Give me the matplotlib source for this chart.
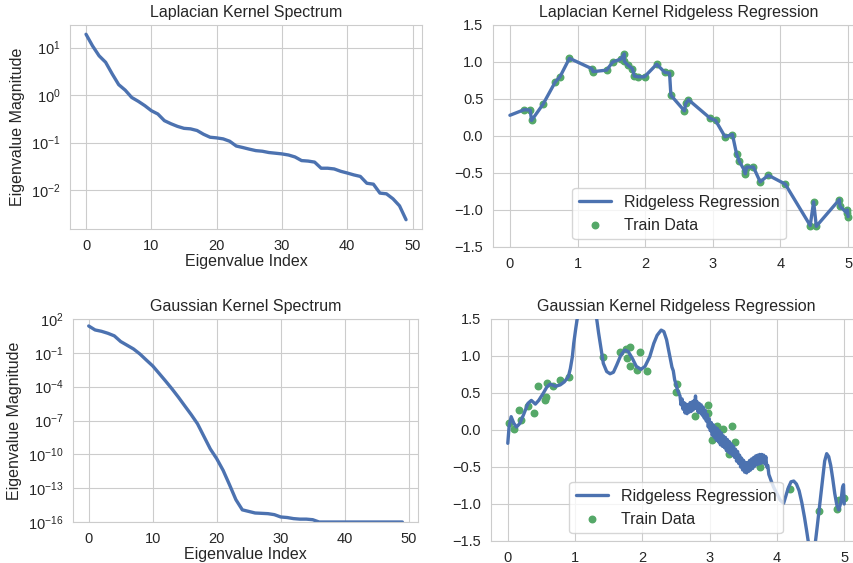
import numpy as np
import matplotlib
matplotlib.use("Agg")
import matplotlib.pyplot as plt
import seaborn as sns

sns.set_style("whitegrid")
plt.rcParams['font.family'] = ['Liberation Sans', 'DejaVu Sans']
plt.rcParams['mathtext.fontset'] = 'custom'
plt.rcParams['mathtext.rm'] = 'Liberation Sans'
plt.rcParams['mathtext.it'] = 'Liberation Sans:italic'
plt.rcParams['xtick.labelsize'] = 10.5
plt.rcParams['ytick.labelsize'] = 10.5
plt.rcParams['axes.labelsize'] = 11.5
plt.rcParams['axes.titlesize'] = 11.5
plt.rcParams['legend.fontsize'] = 11.5

blue = '#4C72B0'
green = '#55A868'

# eigenvalue spectra
lap_eig = [19, 10.8, 6.7, 4.9, 2.8, 1.66, 1.27, 0.89, 0.74, 0.60,
           0.47, 0.40, 0.29, 0.25, 0.22, 0.20, 0.195, 0.18, 0.15, 0.13,
           0.126, 0.12, 0.107, 0.085, 0.079, 0.073, 0.068, 0.066, 0.062, 0.060,
           0.058, 0.055, 0.050, 0.042, 0.041, 0.039, 0.029, 0.029, 0.028, 0.025,
           0.023, 0.021, 0.0195, 0.014, 0.0134, 0.0087, 0.0084, 0.0066, 0.0047, 0.0024]
gauss_eig = [24, 10.7, 8.1, 5.4, 3.2, 1.0, 0.47, 0.22, 0.079, 0.023,
             6.9e-3, 1.5e-3, 3.2e-4, 6.5e-5, 1.2e-5, 2.0e-6, 3.4e-7, 5.1e-8, 3.9e-9, 3.0e-10,
             4.1e-11, 3.8e-12, 2.0e-13, 9.5e-15, 1.2e-15, 8.7e-16, 6.3e-16, 5.9e-16, 5.5e-16, 4.5e-16,
             2.8e-16, 2.5e-16, 2.0e-16, 1.8e-16, 1.8e-16, 1.6e-16, 1e-16, 1e-16, 1e-16, 1e-16,
             1e-16, 1e-16, 1e-16, 1e-16, 1e-16, 1e-16, 1e-16, 1e-16, 1e-16, 1e-16]

# laplacian kernel: train data and fitted curve
lap_x = [0.21, 0.30, 0.32, 0.49, 0.67, 0.74, 0.88, 1.21, 1.23, 1.43,
         1.52, 1.64, 1.69, 1.69, 1.74, 1.81, 1.84, 1.90, 1.99, 2.17,
         2.29, 2.36, 2.38, 2.58, 2.60, 2.64, 2.96, 3.04, 3.18, 3.29,
         3.35, 3.39, 3.47, 3.48, 3.50, 3.60, 3.70, 3.82, 4.07, 4.44,
         4.49, 4.53, 4.87, 4.88, 4.98, 4.99, 5.00]
lap_y = [0.355, 0.35, 0.21, 0.43, 0.73, 0.80, 1.05, 0.91, 0.87, 0.89,
         1.00, 1.04, 1.11, 1.01, 0.96, 0.91, 0.81, 0.80, 0.80, 0.97,
         0.86, 0.85, 0.55, 0.34, 0.44, 0.49, 0.24, 0.21, -0.01, 0.02,
         -0.24, -0.34, -0.47, -0.51, -0.42, -0.42, -0.62, -0.53, -0.65, -1.21,
         -0.89, -1.22, -0.86, -0.95, -1.04, -1.00, -1.09]
lap_fit_x = [0.0] + lap_x
lap_fit_y = [0.28] + lap_y

# gaussian kernel: train data
gau_x = [0.015, 0.09, 0.17, 0.20, 0.30, 0.39, 0.45, 0.56, 0.57, 0.58,
         0.67, 0.78, 0.91, 1.41, 1.67, 1.75, 1.77, 1.81, 1.82, 1.92,
         1.97, 2.07, 2.50, 2.51, 2.79, 2.97, 2.98, 3.03, 3.11, 3.20,
         3.26, 3.29, 3.34, 3.38, 3.60, 3.75, 4.19, 4.62, 4.90, 4.93, 5.00]
gau_y = [0.10, 0.02, 0.27, 0.13, 0.32, 0.23, 0.60, 0.40, 0.44, 0.64,
         0.59, 0.67, 0.71, 0.99, 1.05, 1.10, 0.97, 0.86, 1.12, 0.81,
         1.05, 0.80, 0.51, 0.62, 0.19, 0.23, 0.34, -0.13, 0.05, 0.02,
         -0.18, -0.33, 0.05, -0.16, -0.45, -0.50, -0.80, -1.09, -1.07, -0.95, -0.92]

# gaussian kernel: fitted curve, (x, y) pairs
gau_fit = [
    (0.00, -0.18), (0.02, 0.05), (0.05, 0.18), (0.09, 0.09), (0.13, 0.04),
    (0.18, 0.09), (0.24, 0.22), (0.30, 0.36), (0.35, 0.40), (0.41, 0.35),
    (0.46, 0.40), (0.53, 0.50), (0.58, 0.58), (0.63, 0.62), (0.71, 0.59),
    (0.78, 0.61), (0.84, 0.65), (0.90, 0.72), (0.93, 0.83), (0.96, 0.99),
    (0.98, 1.17), (1.01, 1.37), (1.04, 1.55), (1.10, 2.0), (1.18, 2.2),
    (1.26, 2.0), (1.32, 1.51), (1.35, 1.31), (1.39, 1.08), (1.42, 0.90),
    (1.47, 0.79), (1.52, 0.76), (1.57, 0.78), (1.62, 0.88), (1.68, 1.01),
    (1.74, 1.08), (1.79, 1.06), (1.85, 0.97), (1.91, 0.86), (1.98, 0.82),
    (2.04, 0.86), (2.11, 0.99), (2.17, 1.17), (2.22, 1.28), (2.28, 1.35),
    (2.32, 1.33), (2.36, 1.22), (2.41, 0.99), (2.44, 0.85), (2.46, 0.80),
    (2.48, 0.68), (2.50, 0.62), (2.52, 0.55), (2.54, 0.50),
    (2.56, 0.46), (2.575, 0.34), (2.59, 0.42), (2.605, 0.28), (2.62, 0.37),
    (2.635, 0.23), (2.65, 0.35), (2.665, 0.22), (2.68, 0.34), (2.695, 0.24),
    (2.71, 0.37), (2.725, 0.25), (2.74, 0.38), (2.755, 0.27), (2.77, 0.40),
    (2.78, 0.29), (2.79, 0.46), (2.80, 0.29), (2.815, 0.38), (2.83, 0.24),
    (2.845, 0.36), (2.86, 0.23), (2.875, 0.34), (2.89, 0.20), (2.905, 0.31),
    (2.92, 0.16), (2.935, 0.27), (2.95, 0.12), (2.965, 0.21), (2.98, 0.04),
    (2.995, 0.15), (3.01, -0.01), (3.025, 0.10), (3.04, -0.07), (3.055, 0.07),
    (3.07, -0.10), (3.085, 0.04), (3.10, -0.14), (3.115, 0.02), (3.13, -0.16),
    (3.145, -0.01), (3.16, -0.20), (3.175, -0.04), (3.19, -0.22), (3.205, -0.08),
    (3.22, -0.24), (3.235, -0.10), (3.25, -0.28), (3.265, -0.13), (3.28, -0.30),
    (3.295, -0.16), (3.31, -0.32), (3.325, -0.19), (3.34, -0.34), (3.355, -0.22),
    (3.37, -0.37), (3.385, -0.26), (3.40, -0.42), (3.415, -0.29), (3.43, -0.45),
    (3.445, -0.34), (3.46, -0.50), (3.475, -0.38), (3.49, -0.54), (3.505, -0.41),
    (3.52, -0.57), (3.535, -0.44), (3.55, -0.58), (3.565, -0.44), (3.58, -0.56),
    (3.595, -0.41), (3.61, -0.54), (3.625, -0.39), (3.64, -0.52), (3.655, -0.37),
    (3.67, -0.49), (3.685, -0.35), (3.70, -0.47), (3.715, -0.34), (3.73, -0.46),
    (3.745, -0.33), (3.76, -0.45), (3.775, -0.33), (3.79, -0.44), (3.805, -0.34),
    (3.82, -0.46), (3.835, -0.36), (3.85, -0.50), (3.865, -0.48), (3.88, -0.60),
    (3.92, -0.70), (3.95, -0.77), (4.00, -0.86), (4.05, -0.95), (4.10, -0.99),
    (4.13, -0.90), (4.17, -0.78), (4.21, -0.70), (4.25, -0.69), (4.29, -0.73),
    (4.33, -0.82), (4.37, -0.98), (4.41, -1.18), (4.44, -1.35), (4.47, -1.53),
    (4.52, -1.75), (4.57, -1.53), (4.60, -1.30), (4.64, -0.98), (4.68, -0.65),
    (4.71, -0.42), (4.74, -0.32), (4.77, -0.36), (4.80, -0.48), (4.83, -0.66),
    (4.86, -0.86), (4.89, -1.01), (4.92, -1.08), (4.95, -0.98), (4.975, -0.78),
    (4.99, -0.74), (5.00, -1.00),
]
gau_fit_x = [p[0] for p in gau_fit]
gau_fit_y = [p[1] for p in gau_fit]

fig = plt.figure(figsize=(8.54, 5.63), dpi=100)
ax1 = fig.add_axes([0.0820, 0.5933, 0.4122, 0.3623])
ax2 = fig.add_axes([0.5773, 0.5613, 0.4356, 0.3943])
ax3 = fig.add_axes([0.0855, 0.0728, 0.4040, 0.3606])
ax4 = fig.add_axes([0.5749, 0.0391, 0.4333, 0.3943])

idx = np.arange(len(lap_eig))

# spectra
ax1.plot(idx, lap_eig, color=blue, lw=2.4)
ax1.set_yscale('log')
ax1.yaxis.set_minor_locator(matplotlib.ticker.NullLocator())
ax1.set_title('Laplacian Kernel Spectrum')
ax1.set_xlabel('Eigenvalue Index', labelpad=1)
ax1.set_ylabel('Eigenvalue Magnitude')

ax3.plot(idx, gauss_eig, color=blue, lw=2.4)
ax3.set_yscale('log')
ax3.set_ylim(1e-16, 1e2)
ax3.set_yticks([10.0 ** k for k in range(2, -17, -3)])
ax3.yaxis.set_minor_locator(matplotlib.ticker.NullLocator())
ax3.set_title('Gaussian Kernel Spectrum')
ax3.set_xlabel('Eigenvalue Index', labelpad=1)
ax3.set_ylabel('Eigenvalue Magnitude')

# regressions
for ax, fx, fy, tx, ty, title in [
        (ax2, lap_fit_x, lap_fit_y, lap_x, lap_y, 'Laplacian Kernel Ridgeless Regression'),
        (ax4, gau_fit_x, gau_fit_y, gau_x, gau_y, 'Gaussian Kernel Ridgeless Regression')]:
    ax.plot(fx, fy, color=blue, lw=2.4, label='Ridgeless Regression', zorder=3)
    ax.scatter(tx, ty, color=green, s=22, label='Train Data', zorder=2)
    ax.set_xlim(-0.25, 5.25)
    ax.set_ylim(-1.5, 1.5)
    ax.set_title(title)
    ax.legend(loc='lower center')

fig.savefig('out.png', dpi=100)
